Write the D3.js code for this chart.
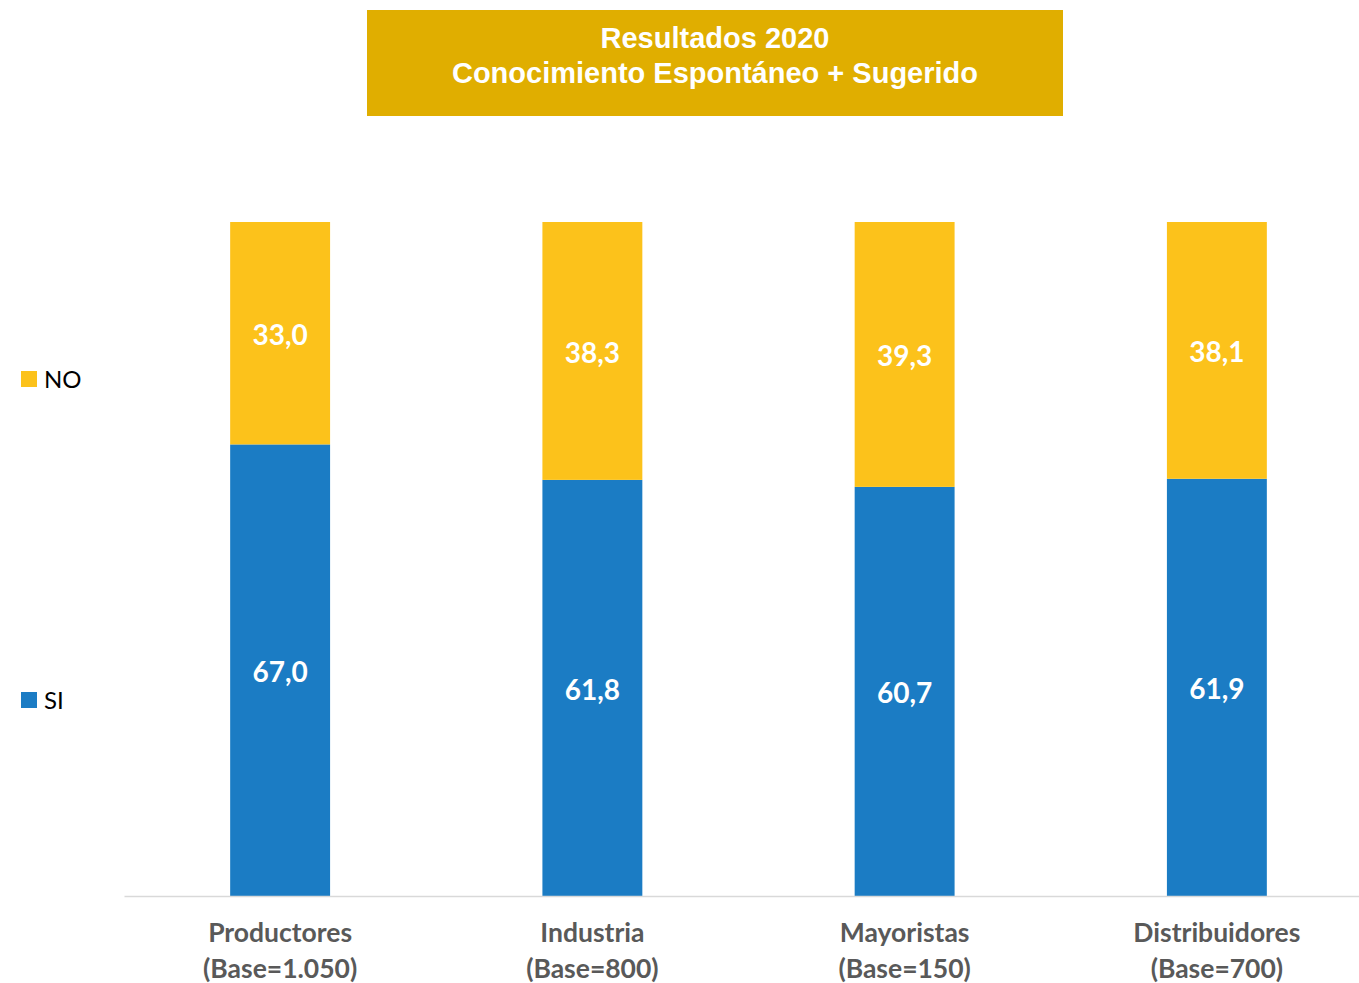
<!DOCTYPE html>
<html><head><meta charset="utf-8">
<script src="https://cdn.jsdelivr.net/npm/d3@7"></script>
<style>body{margin:0;background:#fff}svg{display:block}</style>
</head><body>
<svg id="c" width="1359" height="983"></svg>
<script>
const categories = ["Productores", "Industria", "Mayoristas", "Distribuidores"];
const bases = ["(Base=1.050)", "(Base=800)", "(Base=150)", "(Base=700)"];
const siValues = [67.0, 61.8, 60.7, 61.9];
const noValues = [33.0, 38.3, 39.3, 38.1];
const seriesNames = ["SI", "NO"];
const titleLines = ["Resultados 2020", "Conocimiento Espontáneo + Sugerido"];

const colors = {SI: "#1B7CC4", NO: "#FCC21B"};
const svg = d3.select("#c");

const rows = categories.map((c, i) => ({cat: c, SI: siValues[i], NO: noValues[i]}));
const stack = d3.stack().keys(seriesNames).offset(d3.stackOffsetExpand)(rows);

const x = d3.scaleBand().domain(categories).range([124, 1373]).paddingInner(0.68).paddingOuter(0.34);
const y = d3.scaleLinear().domain([0, 1]).range([896, 222]);

// title box
svg.append("rect").attr("x", 367).attr("y", 10).attr("width", 696).attr("height", 106).attr("fill", "#E0AE00");
svg.selectAll("text.title").data(titleLines).enter().append("text")
  .attr("x", 715).attr("y", (d, i) => 48 + i * 35)
  .attr("text-anchor", "middle").attr("fill", "#fff")
  .style("font-family", "'Liberation Sans', Arial, sans-serif").style("font-weight", "bold").style("font-size", "29px")
  .text(d => d);

// bars
const g = svg.append("g");
stack.forEach(s => {
  const key = s.key;
  g.selectAll(null).data(s).enter().append("rect")
    .attr("x", d => x(d.data.cat)).attr("width", x.bandwidth())
    .attr("y", d => y(d[1])).attr("height", d => y(d[0]) - y(d[1]))
    .attr("fill", colors[key]);
  g.selectAll(null).data(s).enter().append("text")
    .attr("x", d => x(d.data.cat) + x.bandwidth() / 2)
    .attr("y", d => (y(d[0]) + y(d[1])) / 2)
    .attr("dy", "0.42em")
    .attr("text-anchor", "middle").attr("fill", "#fff")
    .style("font-family", "Lato, sans-serif").style("font-weight", "bold").style("font-size", "28px")
    .text(d => d.data[key].toFixed(1).replace(".", ","));
});

// axis
const xAxis = d3.axisBottom(x).tickSize(0).tickPadding(0);
const ax = svg.append("g").attr("transform", "translate(0,896)").call(xAxis);
ax.select(".domain").attr("stroke", "#D9D9D9").attr("stroke-width", 1.5);
ax.selectAll(".tick text").remove();
ax.selectAll(".tick").each(function(d, i) {
  const t = d3.select(this).append("text")
    .attr("text-anchor", "middle").attr("fill", "#595959")
    .style("font-family", "Lato, sans-serif").style("font-weight", "bold").style("font-size", "26.5px");
  t.append("tspan").attr("x", 0).attr("y", 46).text(d);
  t.append("tspan").attr("x", 0).attr("y", 82).text(bases[i]);
});

// legend
const legendY = {NO: 371, SI: 692};
["NO", "SI"].forEach(k => {
  svg.append("rect").attr("x", 21).attr("y", legendY[k]).attr("width", 16).attr("height", 16).attr("fill", colors[k]);
  svg.append("text").attr("x", 44).attr("y", legendY[k] + 17).attr("fill", "#000")
    .style("font-family", "Lato, sans-serif").style("font-size", "24px").text(k);
});
</script>
</body></html>
